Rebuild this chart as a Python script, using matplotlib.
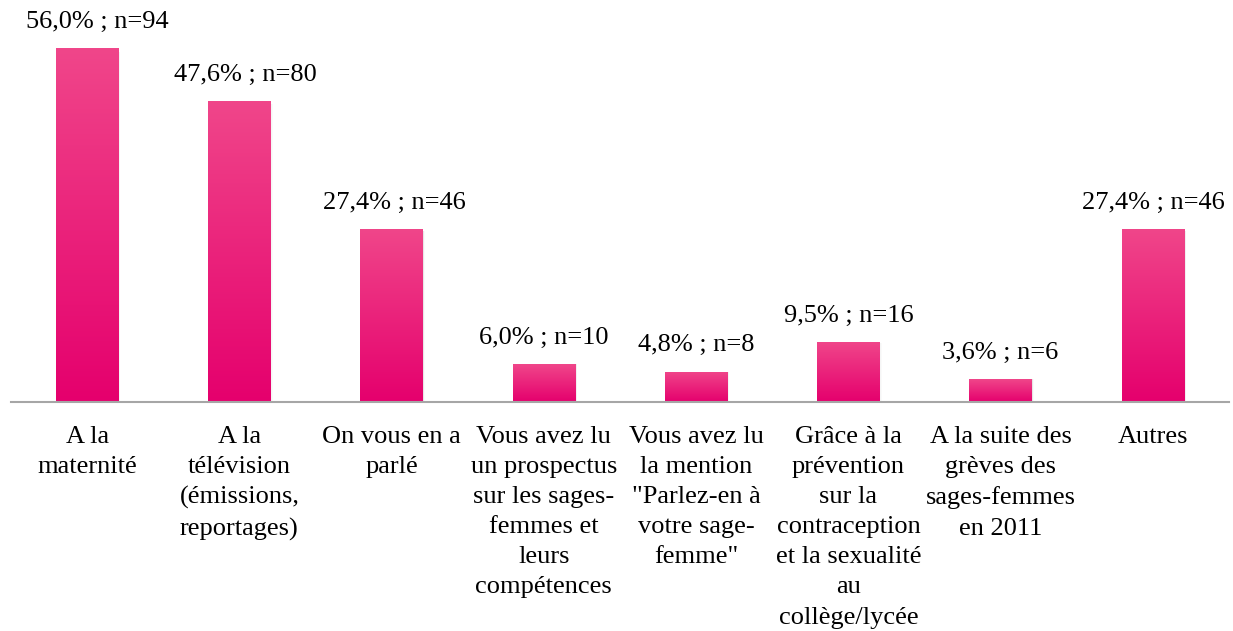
import matplotlib
matplotlib.use("Agg")
import matplotlib.pyplot as plt
import numpy as np
from matplotlib.colors import LinearSegmentedColormap

categories = [
    "A la\nmaternité",
    "A la\ntélévision\n(émissions,\nreportages)",
    "On vous en a\nparlé",
    "Vous avez lu\nun prospectus\nsur les sages-\nfemmes et\nleurs\ncompétences",
    "Vous avez lu\nla mention\n\"Parlez-en à\nvotre sage-\nfemme\"",
    "Grâce à la\nprévention\nsur la\ncontraception\net la sexualité\nau\ncollège/lycée",
    "A la suite des\ngrèves des\nsages-femmes\nen 2011",
    "Autres",
]
percents = [56.0, 47.6, 27.4, 6.0, 4.8, 9.5, 3.6, 27.4]
counts = [94, 80, 46, 10, 8, 16, 6, 46]

plt.rcParams['font.family'] = ['Liberation Serif', 'DejaVu Serif']

W, H = 1233, 631
fig = plt.figure(figsize=(W/100, H/100), dpi=100)
ax = fig.add_axes([11/W, 1-402/H, (1229-11)/W, 402/H])

x = np.arange(len(categories))
bars = ax.bar(x, percents, width=0.41, color='#E6006E', zorder=2)

cmap = LinearSegmentedColormap.from_list('pk', ['#E5006D', '#F0468A'])
grad = np.linspace(0, 1, 256).reshape(-1, 1)
for b in bars:
    x0 = b.get_x(); w = b.get_width(); h = b.get_height()
    im = ax.imshow(grad, cmap=cmap, origin='lower', aspect='auto',
                   extent=(x0, x0 + w, 0, h), zorder=3)
    im.set_clip_path(b)
    for k, a in enumerate([0.06, 0.04, 0.02]):
        ax.add_patch(plt.Rectangle((x0 + w + 0.004*k, 0), 0.006, h*0.99,
                                   color='black', alpha=a, lw=0, zorder=1))

label_dx = [7, 4, 2, 0, 0, 0, 0, 0]
for xi, p, n, dx in zip(x, percents, counts, label_dx):
    label = f"{p:.1f}".replace('.', ',') + f"%\u00a0; n={n}"
    ax.annotate(label, (xi, p), xytext=(dx, 11), textcoords='offset points',
                ha='center', va='bottom', fontsize=19, color='black')

ax.set_xlim(-0.5, len(categories) - 0.5)
ax.set_ylim(0, 56.0 * 402 / 354)
ax.set_xticks(x)
ax.set_xticklabels(categories, fontsize=19, linespacing=1.48)
ax.tick_params(axis='x', length=0, pad=17)
ax.set_yticks([])
for s in ['top', 'right', 'left']:
    ax.spines[s].set_visible(False)
ax.spines['bottom'].set_color('#A6A6A6')
ax.spines['bottom'].set_linewidth(1.5)
ax.spines['bottom'].set_zorder(5)
ax.patch.set_alpha(0)

fig.savefig('out.png', dpi=100)
